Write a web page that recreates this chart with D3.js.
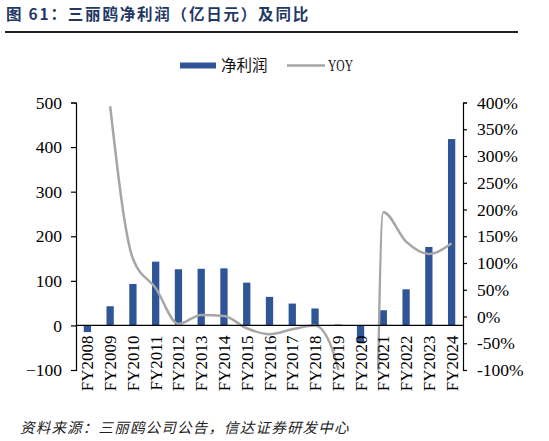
<!DOCTYPE html>
<html>
<head>
<meta charset="utf-8">
<script src="https://cdn.jsdelivr.net/npm/d3@7"></script>
<style>
  body { margin: 0; background: #fff; }
  svg { display: block; }
</style>
</head>
<body>
<svg width="549" height="441"></svg>
<script>
// 三丽鸥净利润（亿日元）及同比
var years = ["FY2008", "FY2009", "FY2010", "FY2011", "FY2012", "FY2013", "FY2014", "FY2015",
             "FY2016", "FY2017", "FY2018", "FY2019", "FY2020", "FY2021", "FY2022", "FY2023", "FY2024"];
var profit = [-15, 43, 93, 143, 126, 127, 128, 96, 64, 49, 38, 2, -39, 34, 81, 176, 418];
// YOY in %, FY2008 has none, FY2020 is far below the axis
var yoy = [null, 393, 108, 53, -14, 3, 1, -22, -33, -24, -17, -95, -2100, 195, 140, 117, 137];
var leftTicks = [-100, 0, 100, 200, 300, 400, 500];
var rightTicks = [-100, -50, 0, 50, 100, 150, 200, 250, 300, 350, 400];

var svg = d3.select("svg");
var PLOT = {left: 76, right: 463, top: 102.5, bottom: 370};
var BLUE = "#2F5597", GREY = "#A6A6A6";
var serif = "'Liberation Serif', 'Times New Roman', serif";
var cjk = "'Noto Sans CJK SC', sans-serif";

// title + rule
svg.append("text")
    .attr("x", 6).attr("y", 20)
    .attr("font-family", cjk).attr("font-size", 15.5).attr("font-weight", "bold")
    .attr("letter-spacing", 1.8)
    .attr("fill", "#1F3864")
    .text("图 61：三丽鸥净利润（亿日元）及同比");
svg.append("line")
    .attr("x1", 5).attr("x2", 518).attr("y1", 32).attr("y2", 32)
    .attr("stroke", "#222").attr("stroke-width", 1.8);

var x = d3.scaleBand().domain(years).range([PLOT.left, PLOT.right])
    .paddingInner(0.68).paddingOuter(0.34);
var yL = d3.scaleLinear().domain([-100, 500]).range([PLOT.bottom, PLOT.top]);
var yR = d3.scaleLinear().domain([-100, 400]).range([PLOT.bottom, PLOT.top]);

// bars
svg.append("g").selectAll("rect")
    .data(profit)
    .join("rect")
    .attr("x", (d, i) => x(years[i]))
    .attr("width", x.bandwidth())
    .attr("y", d => yL(Math.max(0, d)))
    .attr("height", d => Math.abs(yL(d) - yL(0)))
    .attr("fill", BLUE);

// YOY line, clipped to the plot area
svg.append("clipPath").attr("id", "plotclip")
  .append("rect")
    .attr("x", PLOT.left).attr("y", PLOT.top - 2)
    .attr("width", PLOT.right - PLOT.left).attr("height", PLOT.bottom - PLOT.top + 2);

var pts = yoy.map((v, i) => ({year: years[i], v: v})).filter(d => d.v !== null);
var line = d3.line()
    .curve(d3.curveMonotoneX)
    .x(d => x(d.year) + x.bandwidth() / 2)
    .y(d => yR(d.v));
svg.append("path")
    .datum(pts)
    .attr("clip-path", "url(#plotclip)")
    .attr("fill", "none")
    .attr("stroke", GREY)
    .attr("stroke-width", 2.5)
    .attr("d", line);

// zero line
svg.append("line")
    .attr("x1", PLOT.left).attr("x2", PLOT.right)
    .attr("y1", yL(0)).attr("y2", yL(0))
    .attr("stroke", "#000").attr("stroke-width", 1.2);

// axes
var gl = svg.append("g")
    .attr("transform", "translate(" + PLOT.left + ",0)")
    .call(d3.axisLeft(yL).tickValues(leftTicks).tickSize(5).tickPadding(9).tickFormat(d3.format("d")));
var gr = svg.append("g")
    .attr("transform", "translate(" + PLOT.right + ",0)")
    .call(d3.axisRight(yR).tickValues(rightTicks).tickSize(4).tickPadding(10).tickFormat(d => d + "%"));
[gl, gr].forEach(function(g) {
    g.select(".domain").attr("stroke", "#000").attr("stroke-width", 1.2);
    g.selectAll(".tick line").attr("stroke", "#000").attr("stroke-width", 1.2);
    g.selectAll(".tick text").attr("font-family", serif).attr("font-size", 17.5).attr("fill", "#000");
});

// category labels, rotated, next to zero line
svg.append("g").selectAll("text")
    .data(years)
    .join("text")
    .attr("transform", d => "translate(" + (x(d) + x.bandwidth() / 2 + 6) + "," + (yL(0) + 10) + ") rotate(-90)")
    .attr("text-anchor", "end")
    .attr("font-family", serif).attr("font-size", 17)
    .attr("fill", "#000")
    .text(d => d);

// legend
var lg = svg.append("g").attr("font-family", cjk).attr("font-size", 15.5).attr("fill", "#111");
lg.append("rect").attr("x", 180).attr("y", 62.5).attr("width", 36).attr("height", 6).attr("fill", BLUE);
lg.append("text").attr("x", 221).attr("y", 71).text("净利润");
lg.append("line").attr("x1", 287).attr("x2", 325).attr("y1", 65.5).attr("y2", 65.5)
    .attr("stroke", GREY).attr("stroke-width", 2.5);
lg.append("text").attr("x", 328).attr("y", 71).attr("font-family", serif).attr("font-size", 16)
    .attr("textLength", 25).attr("lengthAdjust", "spacingAndGlyphs").text("YOY");

// source
svg.append("text")
    .attr("x", 20).attr("y", 433)
    .attr("font-family", cjk).attr("font-size", 14.5).attr("font-style", "italic")
    .attr("letter-spacing", 1.2)
    .attr("fill", "#222")
    .text("资料来源：三丽鸥公司公告，信达证券研发中心");
</script>
</body>
</html>
